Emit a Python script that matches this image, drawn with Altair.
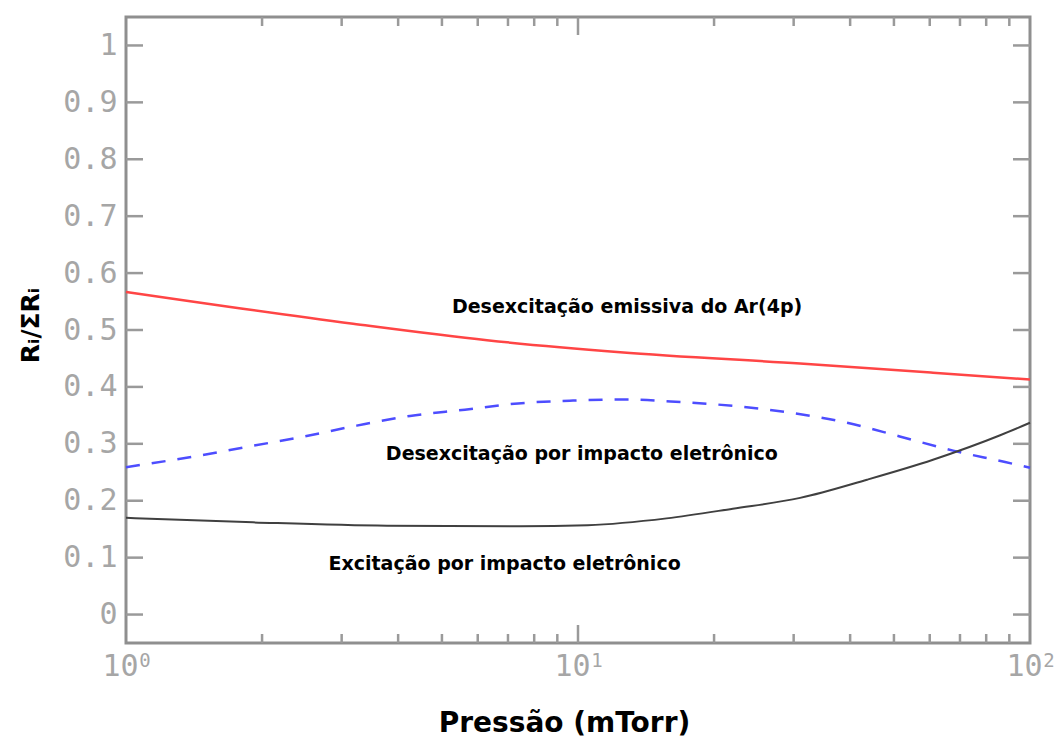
import altair as alt
import pandas as pd

# Pressure (mTorr) and relative rate R_i / sum(R_i) for each process
p_emissive = [1, 3.18, 6.29, 12.4, 31.0, 61.0, 100]
r_emissive = [0.567, 0.511, 0.482, 0.461, 0.441, 0.425, 0.413]

p_deexc = [1, 1.42, 1.86, 2.45, 3.24, 4.25, 5.62, 7.37, 9.75, 12.8,
           17.1, 22.5, 29.9, 39.4, 51.5, 67.6, 88.1, 100]
r_deexc = [0.259, 0.278, 0.295, 0.312, 0.332, 0.349, 0.360, 0.371, 0.376, 0.378,
           0.373, 0.366, 0.354, 0.337, 0.313, 0.288, 0.268, 0.258]

p_exc = [1, 1.91, 3.78, 7.44, 10.5, 15.7, 22.0, 31.0, 43.6, 61.0, 85.9, 100]
r_exc = [0.170, 0.162, 0.156, 0.155, 0.157, 0.169, 0.186, 0.205, 0.237, 0.272, 0.315, 0.337]

# Curve annotations (pressure, rate at text baseline, text)
note_p = [12.84, 10.2, 6.88]
note_r = [0.529, 0.272, 0.079]
note_text = ["Desexcitação emissiva do Ar(4p)",
             "Desexcitação por impacto eletrônico",
             "Excitação por impacto eletrônico"]

# Axis ticks
y_ticks = [round(i * 0.1, 1) for i in range(11)]
x_major = [1, 10, 100]
x_minor = [2, 3, 4, 5, 6, 7, 8, 9, 20, 30, 40, 50, 60, 70, 80, 90]
x_exponent = ["0", "1", "2"]

W, H = 904, 626
GRAY = "#9a9a9a"
LABEL_GRAY = "#a6a6a6"

xscale = alt.Scale(type="log", domain=[1, 100], nice=False)
yscale = alt.Scale(domain=[-0.05, 1.05], nice=False, zero=False)

df_em = pd.DataFrame({"x": p_emissive, "y": r_emissive})
df_de = pd.DataFrame({"x": p_deexc, "y": r_deexc})
df_ex = pd.DataFrame({"x": p_exc, "y": r_exc})

x_axis = alt.Axis(
    values=x_major, labelExpr="'10'", ticks=False, domain=False, grid=False,
    labelFont="DejaVu Sans Mono", labelFontSize=30, labelColor=LABEL_GRAY,
    labelPadding=8, labelOffset=-6, labelFlush=False, labelOverlap=False,
    title="Pressão (mTorr)", titleFont="DejaVu Sans", titleFontSize=28,
    titleFontWeight="bold", titleColor="black",
    titleX=438, titleY=88, titleBaseline="alphabetic",
)
y_axis = alt.Axis(
    values=y_ticks,
    labelExpr="datum.value == 0 ? '0' : datum.value == 1 ? '1' : format(datum.value, '.1f')",
    ticks=False, domain=False, grid=False,
    labelFont="DejaVu Sans Mono", labelFontSize=30, labelColor=LABEL_GRAY,
    labelPadding=9, labelOverlap=False,
    title="Rᵢ/ΣRᵢ", titleFont="DejaVu Sans", titleFontSize=25,
    titleFontWeight="bold", titleColor="black",
    titleX=-96, titleY=308, titleAngle=270, titleBaseline="middle",
)

X = alt.X("x:Q", scale=xscale, title="Pressão (mTorr)")
Y = alt.Y("y:Q", scale=yscale, title="Rᵢ/ΣRᵢ")

line_em = alt.Chart(df_em).mark_line(
    color="#ff4545", strokeWidth=2.5, interpolate="monotone"
).encode(
    x=alt.X("x:Q", scale=xscale, axis=x_axis),
    y=alt.Y("y:Q", scale=yscale, axis=y_axis),
)
line_de = alt.Chart(df_de).mark_line(
    color="#4d4dff", strokeWidth=2.5, strokeDash=[14, 12], interpolate="monotone"
).encode(x=X, y=Y)
line_ex = alt.Chart(df_ex).mark_line(
    color="#404040", strokeWidth=2, interpolate="monotone"
).encode(x=X, y=Y)

# Inward ticks on all four sides
df_yt = pd.DataFrame({"y": y_ticks})
tick_style = dict(color=GRAY, strokeWidth=2.5)
yt_left = alt.Chart(df_yt).mark_rule(**tick_style).encode(
    y=Y, x=alt.value(0), x2=alt.value(17))
yt_right = alt.Chart(df_yt).mark_rule(**tick_style).encode(
    y=Y, x=alt.value(W - 17), x2=alt.value(W))

df_xmin = pd.DataFrame({"x": x_minor})
df_xmaj = pd.DataFrame({"x": [10]})
xt = []
for df_t, ln in ((df_xmin, 9), (df_xmaj, 18)):
    xt.append(alt.Chart(df_t).mark_rule(**tick_style).encode(
        x=X, y=alt.value(H), y2=alt.value(H - ln)))
    xt.append(alt.Chart(df_t).mark_rule(**tick_style).encode(
        x=X, y=alt.value(0), y2=alt.value(ln)))

# Decade exponents next to the "10" labels
df_exp = pd.DataFrame({"x": x_major, "t": x_exponent})
exps = alt.Chart(df_exp).mark_text(
    font="DejaVu Sans Mono", fontSize=19, color=LABEL_GRAY, baseline="top",
    align="center", dx=19,
).encode(x=X, y=alt.value(H + 9), text="t:N")

df_notes = pd.DataFrame({"x": note_p, "y": note_r, "t": note_text})
notes = alt.Chart(df_notes).mark_text(
    font="DejaVu Sans", fontWeight="bold", fontSize=19, color="black",
    baseline="alphabetic", align="center",
).encode(x=X, y=Y, text="t:N")

chart = alt.layer(
    line_em, line_de, line_ex, yt_left, yt_right, *xt, exps, notes
).properties(
    width=W, height=H,
    autosize=alt.AutoSizeParams(type="none"),
    padding={"left": 126, "top": 17, "right": 25, "bottom": 97},
    background="white",
).configure_view(stroke="#8f8f8f", strokeWidth=3)

chart.save("out.html", embed_options={"renderer": "svg", "actions": False})
